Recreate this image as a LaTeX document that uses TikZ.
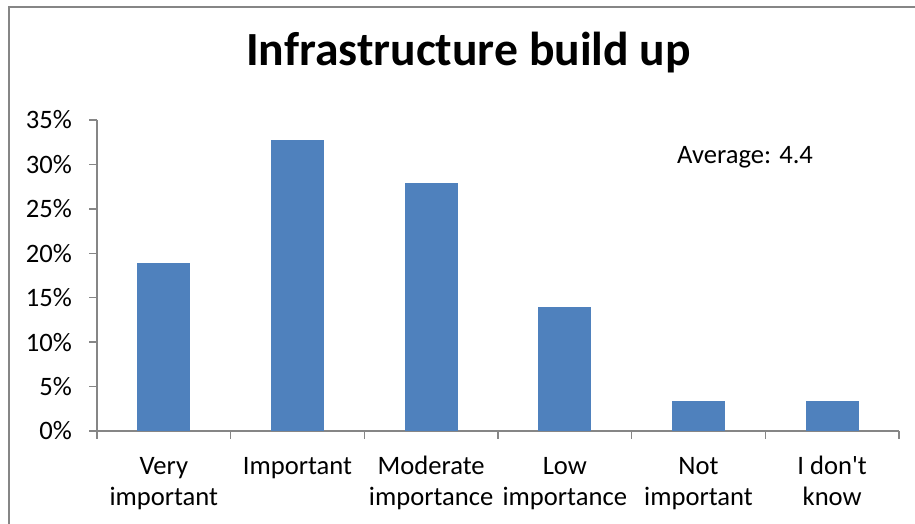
\documentclass[tikz,border=0pt]{standalone}
\usepackage{fontspec}
\setmainfont{Carlito}
\newfontfamily\carlito{Carlito}
\definecolor{barblue}{HTML}{4F81BD}
\definecolor{axisgray}{HTML}{868686}
\begin{document}
\begin{tikzpicture}[x=1pt,y=-1pt,
  frame/.style={draw=axisgray,line width=2pt},
  axis/.style={draw=axisgray,line width=1.4pt},
  lbl/.style={font=\carlito\fontsize{26.6}{31.7}\selectfont,inner sep=0pt},
  ttl/.style={font=\carlito\fontsize{47.6}{56}\selectfont\bfseries,inner sep=0pt},
  bar/.style={fill=barblue,draw=none,inner sep=0pt,minimum width=53pt}]
\useasboundingbox (0,0) rectangle (915,524);
% frame
\draw[frame] (8.5,524) -- (8.5,7.5) -- (915,7.5);
% title
\node[ttl,anchor=base] (title) at (468.5,66) {Infrastructure build up};
% axes
\coordinate (origin) at (97,431);
\coordinate (ytop) at (97,120);
\coordinate (xend) at (899,431);
\draw[axis] (ytop) -- (origin) -- (xend);
% y ticks and labels
\foreach \k/\t in {0/0\%,1/5\%,2/10\%,3/15\%,4/20\%,5/25\%,6/30\%,7/35\%}{
  \pgfmathsetmacro{\yy}{431-44.43*\k}
  \draw[axis] (89,\yy) -- (97,\yy);
  \node[lbl,anchor=east] (yl\k) at (72,\yy) {\t};
}
% x ticks
\foreach \i in {0,...,6}{
  \pgfmathsetmacro{\xx}{97+133.667*\i}
  \draw[axis] (\xx,431) -- (\xx,439);
}
% bars
\foreach \i/\top in {0/263,1/140,2/183,3/307,4/401.5,5/401.5}{
  \pgfmathsetmacro{\xx}{97+133.667*(\i+0.5)}
  \pgfmathsetmacro{\hh}{431-\top}
  \node[bar,minimum height=\hh pt,anchor=south] (bar\i) at (\xx,431) {};
}
% category labels
\foreach \i/\a/\b in {0/Very/important,1/Important/,2/Moderate/importance,3/Low/importance,4/Not/important,5/I don't/know}{
  \pgfmathsetmacro{\xx}{97+133.667*(\i+0.5)}
  \node[lbl,anchor=base] (ca\i) at (\xx,474) {\a};
  \node[lbl,anchor=base] (cb\i) at (\xx,505.5) {\b};
}
% average
\node[lbl,anchor=base west] (avg) at (677,163) {Average: 4.4};
\end{tikzpicture}
\end{document}
